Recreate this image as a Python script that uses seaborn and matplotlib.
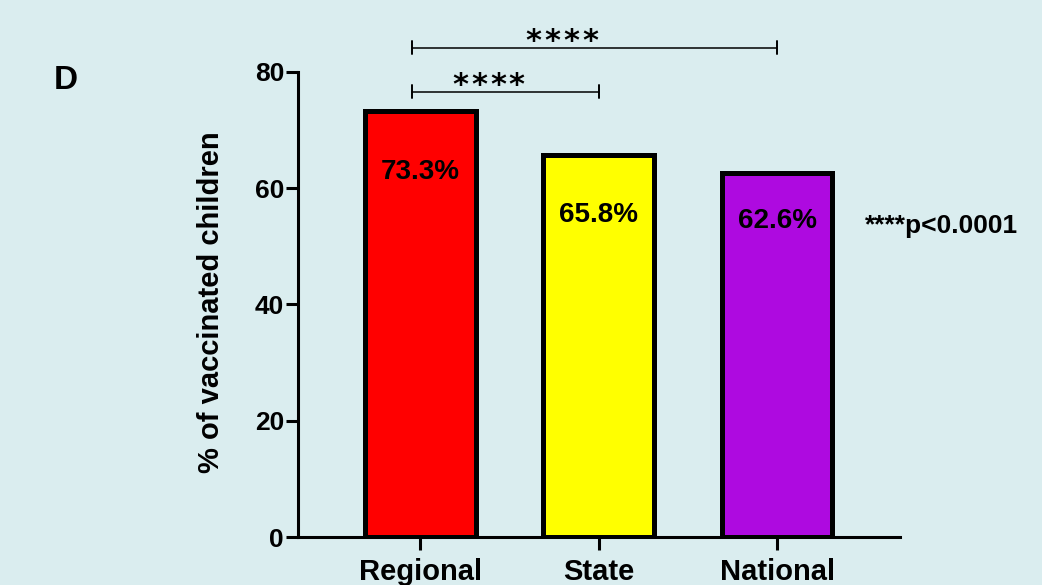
import matplotlib
matplotlib.use("Agg")
import matplotlib.pyplot as plt
import seaborn as sns
import pandas as pd

# data
groups = ["Regional", "State", "National"]
coverage = [73.3, 65.8, 62.6]
bar_colors = ["#FF0000", "#FFFF00", "#AE0AE0"]
y_ticks = [0, 20, 40, 60, 80]
# significance brackets: (from group index, to group index, height, number of stars)
brackets = [(0, 1, 76.6, 4), (0, 2, 84.2, 4)]

# how far below each bar top its value label sits
label_drop = [10.5, 10.4, 8.2]

bg = "#DAEDEF"
sns.set_theme(style="ticks")
plt.rcParams["font.family"] = ["Liberation Sans", "DejaVu Sans"]
plt.rcParams["font.weight"] = "bold"
plt.rcParams["text.color"] = "black"
plt.rcParams["axes.labelcolor"] = "black"

df = pd.DataFrame({"group": groups, "pct": coverage})

fig = plt.figure(figsize=(10.42, 5.85), dpi=100, facecolor=bg)
ax = fig.add_axes([0.286, 0.082, 0.578, 0.795])
ax.set_facecolor(bg)

sns.barplot(data=df, x="group", y="pct", hue="group", palette=bar_colors,
            legend=False, width=0.62, edgecolor="black", linewidth=3.6,
            saturation=1, ax=ax)

ax.set_ylim(0, 80)
ax.set_xlim(-0.685, 2.69)
ax.set_yticks(y_ticks)
ax.set_xlabel("")
ax.set_ylabel("% of vaccinated children", fontsize=21, fontweight="bold")
ax.yaxis.set_label_coords(-0.121, 0.505)

for s in ["top", "right"]:
    ax.spines[s].set_visible(False)
for s in ["left", "bottom"]:
    ax.spines[s].set_linewidth(2.2)
    ax.spines[s].set_color("black")
ax.tick_params(axis="y", length=9, width=2.2, pad=1, labelsize=19, colors="black")
ax.tick_params(axis="x", length=9, width=2.2, pad=6, labelsize=21, colors="black")
for lab in ax.get_xticklabels() + ax.get_yticklabels():
    lab.set_fontweight("bold")

# value labels inside bars
for i, v in enumerate(coverage):
    ax.text(i, v - label_drop[i], f"{v}%", ha="center", va="center",
            fontsize=20, fontweight="bold", color="black")

# significance brackets, stars spaced out one by one
for a, b, h, n in brackets:
    a0 = a - 0.045
    ax.plot([a0, b], [h, h], color="black", lw=1.1, clip_on=False)
    for e in (a0, b):
        ax.plot([e, e], [h - 1.1, h + 1.1], color="black", lw=1.4, clip_on=False)
    xc = a0 + (b - a0) * 0.41
    for k in range(n):
        ax.annotate("*", xy=(xc, h), xytext=((k - (n - 1) / 2) * 13.5, -2),
                    textcoords="offset points", ha="center", va="baseline",
                    fontsize=22, fontweight="bold", family="DejaVu Sans",
                    color="black", annotation_clip=False)

fig.text(0.063, 0.863, "D", fontsize=24, fontweight="bold", ha="center", va="center")
fig.text(0.830, 0.613, "****p<0.0001", fontsize=19, fontweight="bold",
         ha="left", va="center")

fig.savefig("out.png", dpi=100, facecolor=bg)
